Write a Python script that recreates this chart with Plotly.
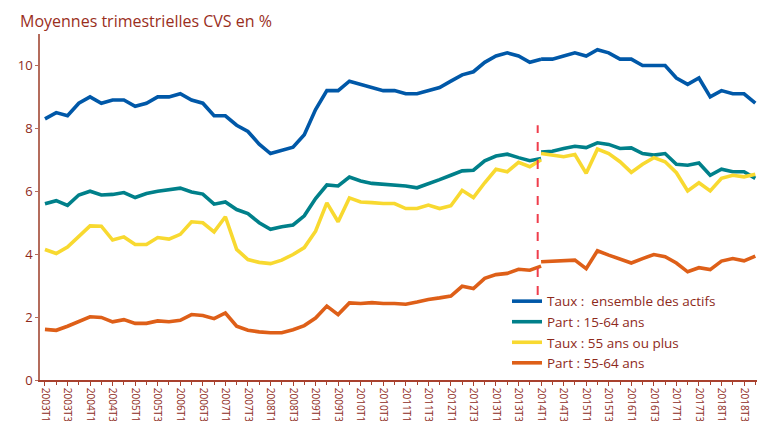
import plotly.graph_objects as go

# ---- data -------------------------------------------------------------
annees = list(range(2003, 2019))
trimestres = [f"{a}T{q}" for a in annees for q in (1, 2, 3, 4)]  # 2003T1 .. 2018T4

taux_ensemble = [8.3, 8.5, 8.4, 8.8, 9.0, 8.8, 8.9, 8.9, 8.7, 8.8, 9.0, 9.0, 9.1, 8.9, 8.8, 8.4,
                 8.4, 8.1, 7.9, 7.5, 7.2, 7.3, 7.4, 7.8, 8.6, 9.2, 9.2, 9.5, 9.4, 9.3, 9.2, 9.2,
                 9.1, 9.1, 9.2, 9.3, 9.5, 9.7, 9.8, 10.1, 10.3, 10.4, 10.3, 10.1, 10.2, 10.2, 10.3, 10.4,
                 10.3, 10.5, 10.4, 10.2, 10.2, 10.0, 10.0, 10.0, 9.6, 9.4, 9.6, 9.0, 9.2, 9.1, 9.1, 8.8]

part_15_64 = [5.6, 5.7, 5.55, 5.88, 6.0, 5.88, 5.9, 5.96, 5.8, 5.93, 6.0, 6.06, 6.1, 5.98, 5.91, 5.59,
              5.66, 5.42, 5.29, 5.0, 4.79, 4.87, 4.93, 5.22, 5.77, 6.2, 6.17, 6.45, 6.33, 6.25, 6.22, 6.2,
              6.17, 6.11, 6.23, 6.37, 6.51, 6.65, 6.67, 6.97, 7.12, 7.18, 7.07, 6.97, 7.25, 7.27, 7.36, 7.43,
              7.39, 7.54, 7.49, 7.36, 7.38, 7.2, 7.15, 7.2, 6.86, 6.83, 6.9, 6.51, 6.7, 6.62, 6.62, 6.41]

taux_55_plus = [4.15, 4.02, 4.23, 4.58, 4.9, 4.89, 4.45, 4.55, 4.31, 4.31, 4.53, 4.48, 4.63, 5.03, 5.0, 4.71,
                5.19, 4.15, 3.83, 3.74, 3.7, 3.81, 3.99, 4.21, 4.73, 5.63, 5.03, 5.79, 5.66, 5.64, 5.61, 5.61,
                5.45, 5.45, 5.56, 5.45, 5.54, 6.03, 5.8, 6.27, 6.7, 6.62, 6.92, 6.78, 7.2, 7.15, 7.1, 7.17,
                6.57, 7.34, 7.2, 6.94, 6.6, 6.86, 7.07, 6.94, 6.59, 6.01, 6.27, 6.01, 6.41, 6.51, 6.46, 6.54]

part_55_64 = [1.61, 1.58, 1.71, 1.87, 2.01, 1.99, 1.85, 1.92, 1.8, 1.8, 1.88, 1.85, 1.9, 2.08, 2.05, 1.95,
              2.13, 1.71, 1.58, 1.53, 1.5, 1.5, 1.6, 1.73, 1.97, 2.35, 2.08, 2.45, 2.43, 2.46, 2.43, 2.43,
              2.41, 2.48, 2.56, 2.61, 2.67, 2.98, 2.91, 3.23, 3.35, 3.39, 3.52, 3.49, 3.76, 3.78, 3.79, 3.81,
              3.54, 4.11, 3.97, 3.86, 3.72, 3.86, 3.99, 3.92, 3.72, 3.44, 3.57, 3.51, 3.78, 3.86, 3.79, 3.94]

# 2014T1 values in the former series (rupture de série)
rupture = "2014T1"
ancienne_2014T1 = {"ensemble": 10.2, "p1564": 7.04, "t55": 7.0, "p5564": 3.62}

noms = ["Taux :  ensemble des actifs", "Part : 15-64 ans", "Taux : 55 ans ou plus", "Part : 55-64 ans"]
couleurs = ["#0058a8", "#00808a", "#f8d930", "#de5f18"]
cles = ["ensemble", "p1564", "t55", "p5564"]
series = [taux_ensemble, part_15_64, taux_55_plus, part_55_64]

tick_labels = trimestres[::2]

# ---- figure -----------------------------------------------------------
ib = trimestres.index(rupture)
idx = list(range(len(trimestres)))
fig = go.Figure()
for nom, coul, cle, vals in zip(noms, couleurs, cles, series):
    xs = idx[:ib] + [ib, None] + idx[ib:]
    ys = vals[:ib] + [ancienne_2014T1[cle], None] + vals[ib:]
    fig.add_trace(go.Scatter(x=xs, y=ys, mode="lines", name=nom,
                             line=dict(color=coul, width=3.6), connectgaps=False))

txt = "#8e2a1b"
fig.add_shape(type="line", xref="x", yref="y", x0=ib - 0.3, x1=ib - 0.3, y0=2.7, y1=8.1,
              line=dict(color="#ef3e4c", width=2, dash="dash"))

fig.update_layout(
    width=757, height=421,
    margin=dict(l=40, r=0, t=34, b=41),
    paper_bgcolor="white", plot_bgcolor="white",
    font=dict(family="Open Sans", color=txt, size=13),
    title=dict(text="Moyennes trimestrielles CVS en %", x=20 / 757, xanchor="left",
               y=1 - 21 / 421, yanchor="middle", font=dict(size=16, color="#9a2e1c")),
    showlegend=True,
    legend=dict(x=(507 - 40) / 717, xanchor="left", y=0.272, yanchor="top",
                bgcolor="rgba(0,0,0,0)", font=dict(size=13.5, color=txt),
                tracegroupgap=0),
    xaxis=dict(range=[-0.44, 63.15], showgrid=False, zeroline=False,
               tickmode="array", tickvals=idx[::2], ticktext=tick_labels,
               tickangle=90, tickfont=dict(size=10, color=txt),
               showline=True, linecolor="#a8412e", linewidth=1.5,
               ticks="outside", ticklen=4, tickcolor="#a8412e",
               minor=dict(tickmode="linear", tick0=0, dtick=1, ticks="outside",
                          ticklen=3, tickcolor="#a8412e"),
               automargin=False),
    yaxis=dict(range=[0, 11], showgrid=False, zeroline=False,
               tickvals=[0, 2, 4, 6, 8, 10], tickfont=dict(size=13, color=txt),
               showline=True, linecolor="#b46c5c", linewidth=1.5,
               ticks="outside", ticklen=3, tickcolor="#b46c5c",
               automargin=False),
)

fig.write_html("out.html", config={"displayModeBar": False},
               post_script="document.body.style.margin='0';document.body.style.overflow='hidden';")
